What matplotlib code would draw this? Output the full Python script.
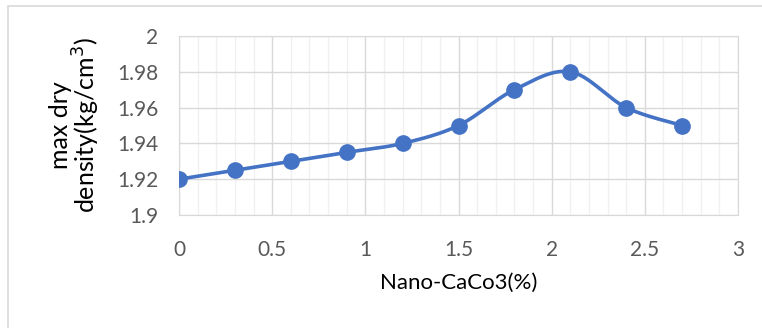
import numpy as np
import matplotlib.pyplot as plt
from matplotlib.patches import Rectangle

plt.rcParams['font.family'] = ['Lato', 'DejaVu Sans']

caco3 = [0, 0.3, 0.6, 0.9, 1.2, 1.5, 1.8, 2.1, 2.4, 2.7]
density = [1.92, 1.925, 1.93, 1.935, 1.94, 1.95, 1.97, 1.98, 1.96, 1.95]

blue = '#4472C4'
grey_txt = '#595959'


def smooth_curve(x, y, n=30):
    # cubic bezier through the points, control points from neighbours
    x = np.asarray(x, float)
    y = np.asarray(y, float)
    px = np.concatenate([[x[0]], x, [x[-1]]])
    py = np.concatenate([[y[0]], y, [y[-1]]])
    xs, ys = [], []
    t = np.linspace(0, 1, n)
    for i in range(1, len(px) - 2):
        p0 = np.array([px[i], py[i]])
        p3 = np.array([px[i + 1], py[i + 1]])
        c1 = p0 + (np.array([px[i + 1], py[i + 1]]) - np.array([px[i - 1], py[i - 1]])) / 6
        c2 = p3 - (np.array([px[i + 2], py[i + 2]]) - np.array([px[i], py[i]])) / 6
        b = ((1 - t) ** 3)[:, None] * p0 + (3 * (1 - t) ** 2 * t)[:, None] * c1 \
            + (3 * (1 - t) * t ** 2)[:, None] * c2 + (t ** 3)[:, None] * p3
        xs.extend(b[:, 0])
        ys.extend(b[:, 1])
    return np.array(xs), np.array(ys)


fig = plt.figure(figsize=(7.62, 3.28), dpi=100)
ax = fig.add_axes([179 / 762, 1 - 215 / 328, (738 - 179) / 762, (215 - 36) / 328])

sx, sy = smooth_curve(caco3, density)
ax.plot(sx, sy, color=blue, lw=2.6, zorder=3)
ax.plot(caco3, density, 'o', color=blue, ms=11, zorder=4)

ax.set_xlim(0, 3)
ax.set_ylim(1.9, 2.0)
ax.set_xticks(np.arange(0, 3.01, 0.5))
ax.set_xticklabels(['0', '0.5', '1', '1.5', '2', '2.5', '3'])
ax.set_yticks(np.arange(1.9, 2.001, 0.02))
ax.set_yticklabels(['1.9', '1.92', '1.94', '1.96', '1.98', '2'])
ax.set_xticks(np.arange(0, 3.01, 0.1), minor=True)
ax.grid(which='major', color='#D9D9D9', lw=1)
ax.grid(which='minor', axis='x', color='#F0F0F0', lw=1)
ax.set_axisbelow(True)
ax.tick_params(which='both', length=0, labelsize=15, labelcolor=grey_txt)
ax.tick_params(axis='x', pad=18)
ax.tick_params(axis='y', pad=15)
for s in ax.spines.values():
    s.set_color('#D9D9D9')

ax.set_xlabel('Nano-CaCo3(%)', fontsize=16, labelpad=9)
ax.set_ylabel('max dry\ndensity(kg/cm$^3$)', fontsize=18, labelpad=11, linespacing=0.95)

# outer chart border
fig.patches.append(Rectangle((8 / 762, -0.1), 1.2, 1.1 - 6 / 328, transform=fig.transFigure,
                             fill=False, edgecolor='#D9D9D9', lw=1.2))

fig.savefig('out.png', dpi=100)
